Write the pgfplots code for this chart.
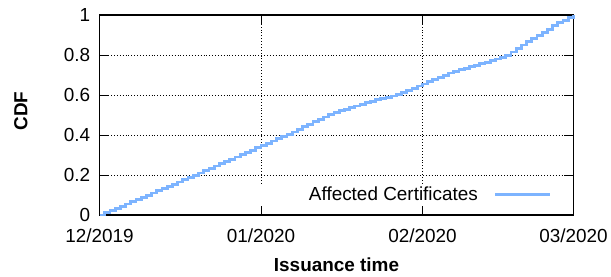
\documentclass[border=0pt]{standalone}
\usepackage{fontspec}
\setmainfont{Liberation Sans}
\usepackage{pgfplots}
\pgfplotsset{compat=1.18}
\definecolor{cdfblue}{RGB}{125,180,255}
\begin{document}
\begin{tikzpicture}
\begin{axis}[
  scale only axis, width=476pt, height=201pt,
  xmin=0, xmax=91, ymin=0, ymax=1,
  xtick={0,31,62,91}, xticklabels={12/2019,01/2020,02/2020,03/2020},
  ytick={0,0.2,0.4,0.6,0.8,1},
  yticklabels={0,0.2,0.4,0.6,0.8,1},
  grid=major,
  grid style={black, line width=0.7pt, dash pattern=on 0.7pt off 2.2pt},
  major tick length=9pt,
  tick style={black, line width=0.9pt},
  axis line style={line width=1.2pt},
  tick label style={font=\fontsize{19}{23}\selectfont},
  xticklabel style={yshift=-10pt},
  yticklabel style={xshift=-6pt},
  xlabel={Issuance time},
  ylabel={CDF},
  every axis x label/.style={at={(axis description cs:0.5,-0.2488)}, anchor=center, font=\fontsize{19}{23}\selectfont\bfseries},
  every axis y label/.style={at={(axis description cs:-0.166,0.52)}, anchor=center, rotate=90, font=\fontsize{19}{23}\selectfont\bfseries},
  legend plot pos=right,
  legend style={at={(axis cs:91,0)}, anchor=south east, xshift=-22pt, yshift=11pt,
    fill=white, draw=none, inner xsep=0pt, inner ysep=0pt,
    font=\fontsize{19}{23}\selectfont, column sep=14pt},
  legend image code/.code={\draw[#1] (0pt,0pt) -- (55pt,0pt);},
  clip=false,
]
\addplot[const plot, color=cdfblue, line width=2.8pt] coordinates {
(0,0) (1,0.011) (2,0.022) (3,0.033) (4,0.044) (5,0.055) (6,0.066) (7,0.077)
(8,0.088) (9,0.099) (10,0.110) (11,0.121) (12,0.132) (13,0.143) (14,0.154)
(15,0.165) (16,0.176) (17,0.187) (18,0.199) (19,0.210) (20,0.222) (21,0.233)
(22,0.245) (23,0.256) (24,0.267) (25,0.279) (26,0.290) (27,0.302) (28,0.313)
(29,0.324) (30,0.336) (31,0.347) (32,0.358) (33,0.370) (34,0.381) (35,0.392)
(36,0.404) (37,0.415) (38,0.428) (39,0.441) (40,0.453) (41,0.466) (42,0.478)
(43,0.490) (44,0.503) (45,0.513) (46,0.521) (47,0.529) (48,0.537) (49,0.545)
(50,0.553) (51,0.561) (52,0.569) (53,0.577) (54,0.583) (55,0.589) (56,0.595)
(57,0.601) (58,0.612) (59,0.623) (60,0.634) (61,0.645) (62,0.655) (63,0.666)
(64,0.677) (65,0.688) (66,0.699) (67,0.710) (68,0.718) (69,0.726) (70,0.733)
(71,0.741) (72,0.749) (73,0.756) (74,0.764) (75,0.772) (76,0.780) (77,0.788)
(78,0.796) (79,0.815) (80,0.834) (81,0.850) (82,0.866) (83,0.882) (84,0.898)
(85,0.912) (86,0.928) (87,0.948) (88,0.961) (89,0.974) (90,0.987) (91,1.000)
};
\addlegendentry{\makebox[228pt][r]{Affected Certificates}}
\coordinate (O) at (rel axis cs:0,0);
\end{axis}
\path (O) ++(-100pt,-62pt) rectangle ++(611pt,278pt);
\end{tikzpicture}
\end{document}
